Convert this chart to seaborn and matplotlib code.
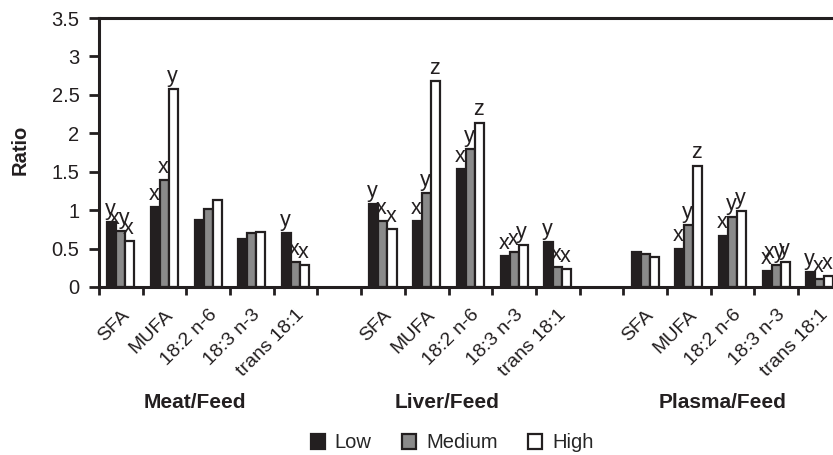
import numpy as np
import pandas as pd
import matplotlib
matplotlib.use("Agg")
import matplotlib.pyplot as plt
from matplotlib.ticker import FixedLocator, FuncFormatter
import seaborn as sns

# ---------------- data ----------------
tissues = ["Meat/Feed", "Liver/Feed", "Plasma/Feed"]
fatty_acids = ["SFA", "MUFA", "18:2 n-6", "18:3 n-3", "trans 18:1"]
levels = ["Low", "Medium", "High"]

meat_low = [0.85, 1.04, 0.87, 0.63, 0.70]
meat_medium = [0.73, 1.39, 1.01, 0.70, 0.32]
meat_high = [0.60, 2.57, 1.13, 0.72, 0.29]

liver_low = [1.08, 0.86, 1.53, 0.40, 0.59]
liver_medium = [0.86, 1.22, 1.80, 0.46, 0.26]
liver_high = [0.76, 2.68, 2.14, 0.55, 0.23]

plasma_low = [0.45, 0.50, 0.67, 0.21, 0.19]
plasma_medium = [0.43, 0.81, 0.91, 0.29, 0.10]
plasma_high = [0.39, 1.58, 0.99, 0.33, 0.14]

meat_low_sig = ["y", "x", "", "", "y"]
meat_medium_sig = ["xy", "x", "", "", "x"]
meat_high_sig = ["x", "y", "", "", "x"]
liver_low_sig = ["y", "x", "x", "x", "y"]
liver_medium_sig = ["x", "y", "y", "x", "x"]
liver_high_sig = ["x", "z", "z", "y", "x"]
plasma_low_sig = ["", "x", "x", "x", "y"]
plasma_medium_sig = ["", "y", "y", "xy", "x"]
plasma_high_sig = ["", "z", "y", "y", "x"]

yticks = [0, 0.5, 1, 1.5, 2, 2.5, 3, 3.5]

values = {
    "Meat/Feed": [meat_low, meat_medium, meat_high],
    "Liver/Feed": [liver_low, liver_medium, liver_high],
    "Plasma/Feed": [plasma_low, plasma_medium, plasma_high],
}
sigs = {
    "Meat/Feed": [meat_low_sig, meat_medium_sig, meat_high_sig],
    "Liver/Feed": [liver_low_sig, liver_medium_sig, liver_high_sig],
    "Plasma/Feed": [plasma_low_sig, plasma_medium_sig, plasma_high_sig],
}

# slot order with an empty slot between tissue groups
order = []
slot_fa = []
for ti, t in enumerate(tissues):
    if ti > 0:
        order.append(f"gap{ti}")
        slot_fa.append("")
    for fa in fatty_acids:
        order.append(f"{t}|{fa}")
        slot_fa.append(fa)

rows = []
for t in tissues:
    for li, lev in enumerate(levels):
        for fi, fa in enumerate(fatty_acids):
            rows.append({"slot": f"{t}|{fa}", "Level": lev,
                         "Ratio": values[t][li][fi], "sig": sigs[t][li][fi]})
df = pd.DataFrame(rows)
sig_lookup = {(r.slot, r.Level): r.sig for r in df.itertuples()}

# ---------------- style ----------------
sns.set_style("white")
plt.rcParams["font.family"] = ["Liberation Sans", "DejaVu Sans"]
plt.rcParams["font.size"] = 14

palette = {"Low": "#231f20", "Medium": "#8a8a8a", "High": "#ffffff"}

W, H = 833, 455
fig = plt.figure(figsize=(W / 100, H / 100), dpi=100)
ax_left, ax_right, ax_top, ax_bottom = 99, 833, 18, 287
ax = fig.add_axes([ax_left / W, (H - ax_bottom) / H,
                   (ax_right - ax_left) / W, (ax_bottom - ax_top) / H])

sns.barplot(data=df, x="slot", y="Ratio", hue="Level", order=order,
            hue_order=levels, palette=palette, width=0.62,
            edgecolor="#231f20", linewidth=1.6, saturation=1,
            errorbar=None, ax=ax)

slot_px = 43.69
ax.set_xlim(-0.5, -0.5 + (ax_right - ax_left) / slot_px)
ax.set_ylim(0, 3.5)

# significance letters
for ci, cont in enumerate(ax.containers):
    lev = levels[ci]
    for bar in cont:
        h = bar.get_height()
        if not np.isfinite(h):
            continue
        xc = bar.get_x() + bar.get_width() / 2
        slot = order[int(round(xc))]
        s = sig_lookup.get((slot, lev), "")
        if s:
            ax.annotate(s, (xc, h), xytext=(-1, 1.5), textcoords="offset points",
                        ha="center", va="bottom", fontsize=15.5, color="#231f20",
                        annotation_clip=False)

# axes frame
for side in ["left", "bottom", "top"]:
    ax.spines[side].set_linewidth(2.2)
    ax.spines[side].set_color("#231f20")
ax.spines["right"].set_visible(False)

ax.yaxis.set_major_locator(FixedLocator(yticks))
ax.yaxis.set_major_formatter(FuncFormatter(lambda v, p: f"{v:g}"))
ax.tick_params(axis="y", direction="out", length=7, width=2, pad=7,
               labelsize=14.5, colors="#231f20", left=True)

ax.xaxis.set_major_locator(FixedLocator(np.arange(-0.5, len(order), 1.0)))
ax.xaxis.set_major_formatter(FuncFormatter(lambda v, p: ""))
label_pos = [i for i, fa in enumerate(slot_fa) if fa]
ax.set_xticks(label_pos, [slot_fa[i] for i in label_pos], minor=True)
ax.tick_params(axis="x", which="major", direction="out", length=6, width=2,
               colors="#231f20", bottom=True)
ax.tick_params(axis="x", which="minor", length=0, pad=14, labelsize=14,
               labelcolor="#231f20")
for lab in ax.get_xticklabels(minor=True):
    lab.set_rotation(45)
    lab.set_ha("right")
    lab.set_va("top")
    lab.set_rotation_mode("anchor")

ax.set_xlabel("")
ax.set_ylabel("")

# group labels
group_offsets = [-0.30, -0.54, -0.22]
for ti, t in enumerate(tissues):
    first = order.index(f"{t}|{fatty_acids[0]}")
    xc = first + (len(fatty_acids) - 1) / 2 + group_offsets[ti]
    ax.text(xc, -(402 - ax_bottom) / (ax_bottom - ax_top), t,
            transform=ax.get_xaxis_transform(), ha="center", va="center",
            fontsize=15, fontweight="bold", color="#231f20")

fig.text(20 / W, 1 - 150 / H, "Ratio", rotation=90, ha="center", va="center",
         fontsize=14.5, fontweight="bold", color="#231f20")

# legend
handles, labels = ax.get_legend_handles_labels()
if ax.get_legend() is not None:
    ax.get_legend().remove()
fig.legend(handles, labels, loc="center", bbox_to_anchor=(452 / W, 1 - 443 / H),
           ncol=3, frameon=False, fontsize=14.5, handlelength=0.7,
           handleheight=0.7, handletextpad=0.5, columnspacing=1.5)

fig.savefig("out.png", dpi=100)
